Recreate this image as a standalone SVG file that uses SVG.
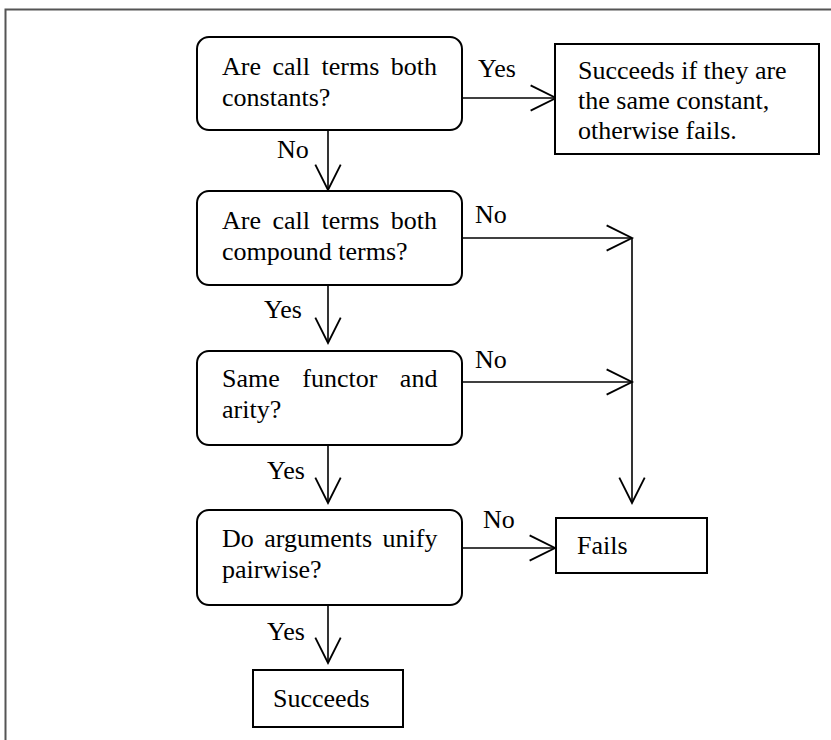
<svg xmlns="http://www.w3.org/2000/svg" width="831" height="740" viewBox="0 0 831 740">
<style>
.t{font-family:"Liberation Serif","Times New Roman",serif;font-size:26px;fill:#000}
.box{fill:#fff;stroke:#000;stroke-width:2}
.c{fill:none;stroke:#000;stroke-width:1.6}
.frame{fill:none;stroke:#555;stroke-width:2}
</style>
<defs>
<marker id="arr" markerUnits="userSpaceOnUse" markerWidth="30" markerHeight="30" refX="0" refY="0" viewBox="-24 -13 26 26" orient="auto" overflow="visible">
<path d="M-22,-11 L0,0 L-22,11" fill="none" stroke="#000" stroke-width="1.6"/>
</marker>
</defs>
<rect width="831" height="740" fill="#fff"/>
<path class="frame" d="M5.5,740 V9.5 H831"/>
<g id="connectors">
<path class="c" d="M462,98 H556" marker-end="url(#arr)"/>
<path class="c" d="M328,130 V190" marker-end="url(#arr)"/>
<path class="c" d="M462,238 H632" marker-end="url(#arr)"/>
<path class="c" d="M328,285 V343" marker-end="url(#arr)"/>
<path class="c" d="M462,382 H632" marker-end="url(#arr)"/>
<path class="c" d="M632,238 V503" marker-end="url(#arr)"/>
<path class="c" d="M328,445 V503" marker-end="url(#arr)"/>
<path class="c" d="M462,548 H555" marker-end="url(#arr)"/>
<path class="c" d="M328,605 V663" marker-end="url(#arr)"/>
<text class="t" x="478" y="77">Yes</text>
<text class="t" x="277" y="158">No</text>
<text class="t" x="475" y="223">No</text>
<text class="t" x="264" y="318">Yes</text>
<text class="t" x="475" y="368">No</text>
<text class="t" x="267" y="479">Yes</text>
<text class="t" x="483" y="528">No</text>
<text class="t" x="267" y="640">Yes</text>
</g>
<g id="q1">
<rect class="box" x="197" y="37" width="265" height="93" rx="12"/>
<text class="t" x="222" y="75" word-spacing="5">Are call terms both</text>
<text class="t" x="222" y="106">constants?</text>
</g>
<g id="constResult">
<rect class="box" x="555" y="44" width="264" height="110"/>
<text class="t" x="578" y="79">Succeeds if they are</text>
<text class="t" x="578" y="109">the same constant,</text>
<text class="t" x="578" y="139">otherwise fails.</text>
</g>
<g id="q2">
<rect class="box" x="197" y="191" width="265" height="94" rx="12"/>
<text class="t" x="222" y="229" word-spacing="5">Are call terms both</text>
<text class="t" x="222" y="260">compound terms?</text>
</g>
<g id="q3">
<rect class="box" x="197" y="351" width="265" height="94" rx="12"/>
<text class="t" x="222" y="387" word-spacing="16">Same functor and</text>
<text class="t" x="222" y="418">arity?</text>
</g>
<g id="q4">
<rect class="box" x="197" y="510" width="265" height="95" rx="12"/>
<text class="t" x="222" y="547" word-spacing="4">Do arguments unify</text>
<text class="t" x="222" y="578">pairwise?</text>
</g>
<g id="fails">
<rect class="box" x="556" y="518" width="151" height="55"/>
<text class="t" x="577" y="554">Fails</text>
</g>
<g id="succeeds">
<rect class="box" x="253" y="670" width="150" height="57"/>
<text class="t" x="273" y="707">Succeeds</text>
</g>
</svg>
